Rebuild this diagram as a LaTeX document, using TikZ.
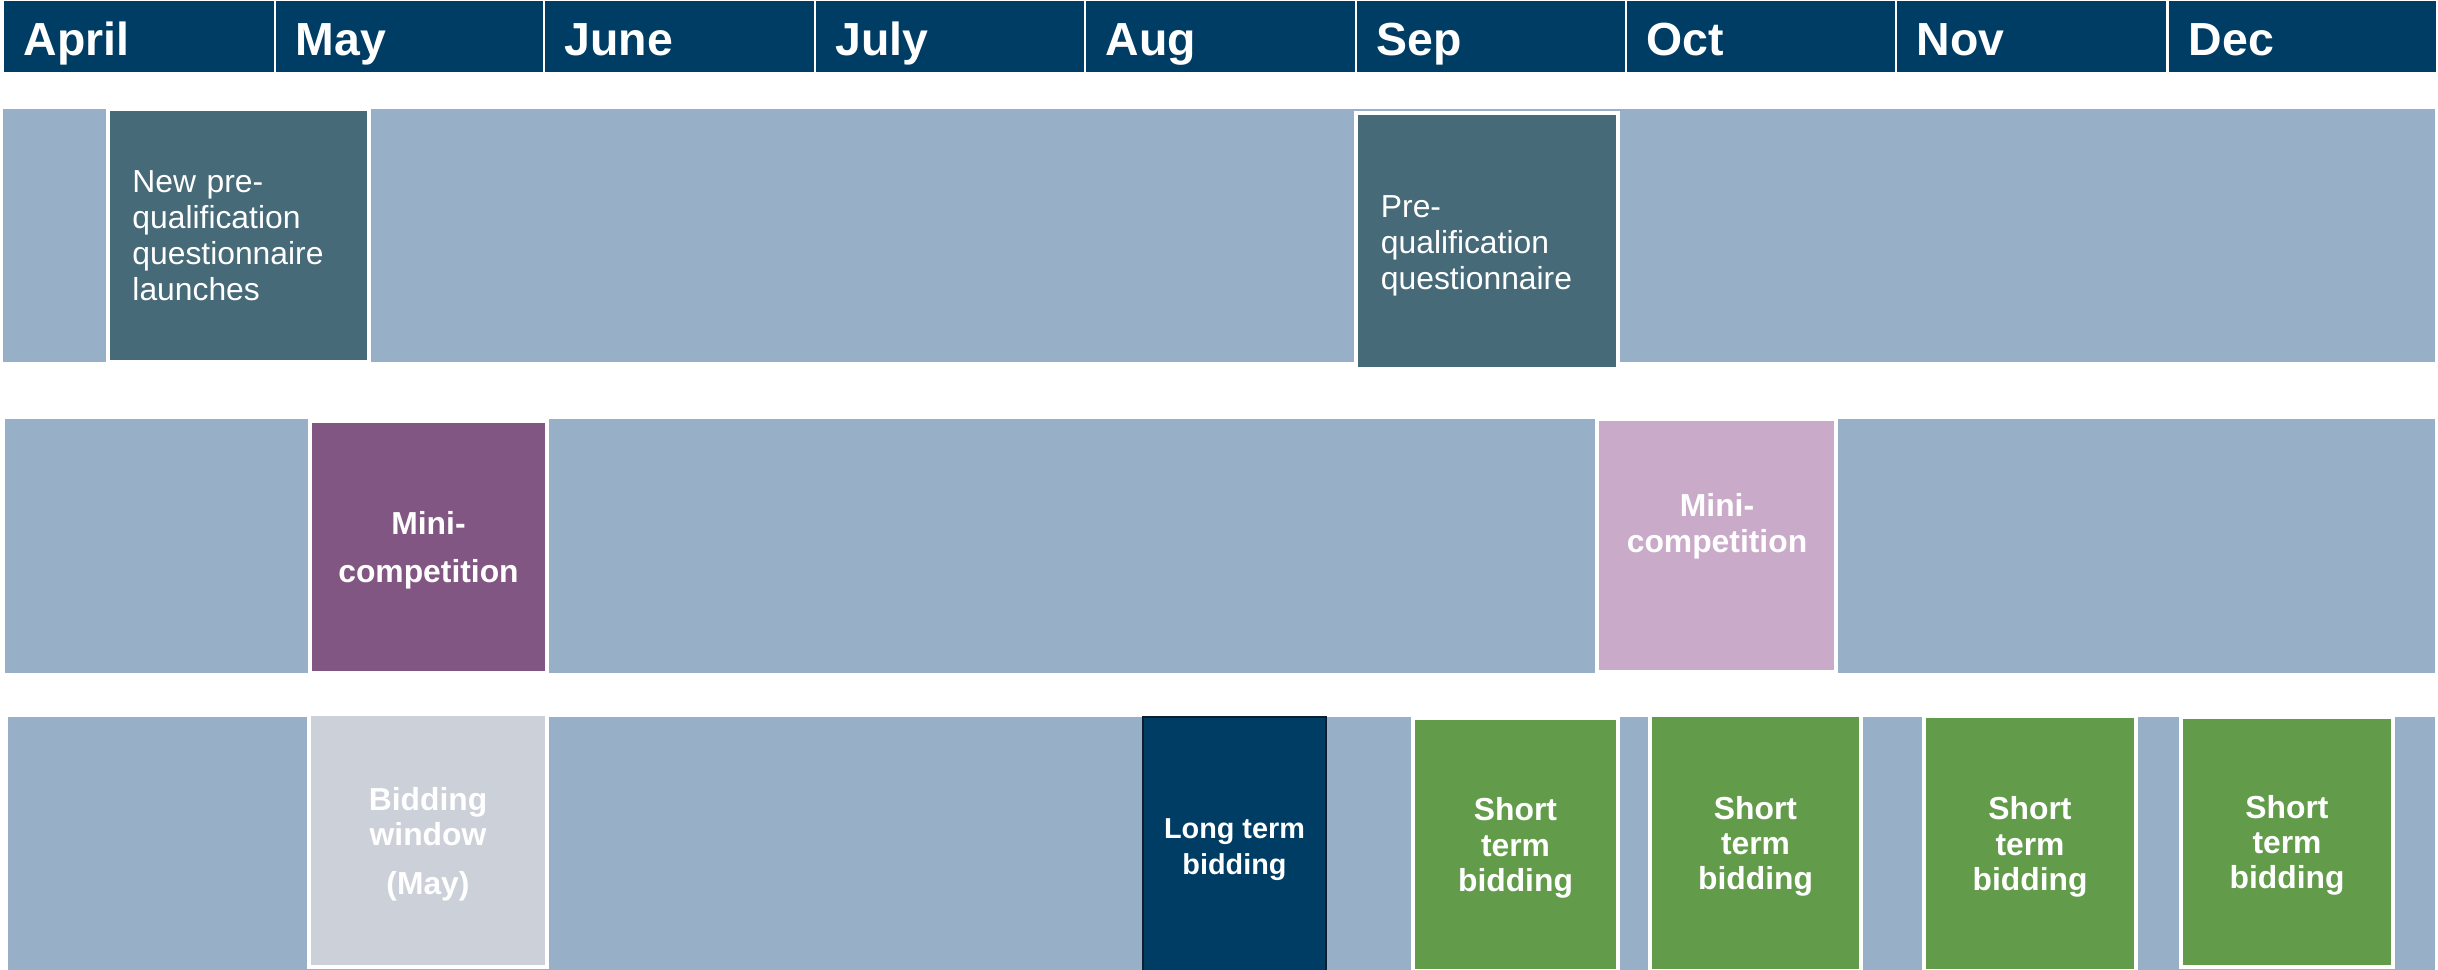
\documentclass[tikz,border=0pt]{standalone}
\usepackage{fontspec}
\setmainfont{Liberation Sans}
\definecolor{navy}{RGB}{0,61,100}
\definecolor{barblue}{RGB}{151,176,200}
\definecolor{teal}{RGB}{70,106,120}
\definecolor{plum}{RGB}{130,86,130}
\definecolor{pink}{RGB}{201,171,201}
\definecolor{greybox}{RGB}{204,208,216}
\definecolor{grn}{RGB}{98,156,74}
\definecolor{darkedge}{RGB}{12,30,48}
\newcommand\tbox[7]{\node[#6, anchor=north west, minimum width={(#4-#2)*0.01cm}, minimum height={(#5-#3)*0.01cm}] (#1) at (#2,#3) {#7};}
\tikzset{
  cellbase/.style={inner sep=0pt, outer sep=0pt, text=white},
  monthcell/.style={cellbase, fill=navy},
  monthlabel/.style={anchor=base west, inner sep=0pt, text=white, font=\fontsize{13.2}{15}\selectfont\bfseries},
  bar/.style={cellbase, fill=barblue},
  whiteedge/.style={draw=white, line width=0.9pt},
  regtext/.style={align=left, text width=2.12cm, font=\fontsize{9.05}{10.25}\selectfont},
  boldtext/.style={align=center, text depth=0pt, font=\fontsize{9.05}{10}\selectfont\bfseries},
  tealbox/.style={cellbase, whiteedge, fill=teal, regtext},
  plumbox/.style={cellbase, whiteedge, fill=plum, boldtext},
  pinkbox/.style={cellbase, whiteedge, fill=pink},
  greybx/.style={cellbase, whiteedge, fill=greybox, boldtext},
  longbox/.style={cellbase, draw=darkedge, line width=0.5pt, fill=navy},
  longtext/.style={inner sep=0pt, text=white, align=center, font=\fontsize{8.2}{10.2}\selectfont\bfseries},
  greenbox/.style={cellbase, whiteedge, fill=grn, boldtext},
}
\begin{document}
\begin{tikzpicture}[x=0.01cm,y=-0.01cm]
\useasboundingbox (0,0) rectangle (2438,970);
% header
\tbox{hApr}{4}{1}{274}{72}{monthcell}{}
\tbox{hMay}{276}{1}{543}{72}{monthcell}{}
\tbox{hJun}{545}{1}{814}{72}{monthcell}{}
\tbox{hJul}{816}{1}{1084}{72}{monthcell}{}
\tbox{hAug}{1086}{1}{1355}{72}{monthcell}{}
\tbox{hSep}{1357}{1}{1625}{72}{monthcell}{}
\tbox{hOct}{1627}{1}{1895}{72}{monthcell}{}
\tbox{hNov}{1897}{1}{2166}{72}{monthcell}{}
\tbox{hDec}{2169}{1}{2436}{72}{monthcell}{}
\node[monthlabel] (lApr) at (23,56) {April};
\node[monthlabel] (lMay) at (295,56) {May};
\node[monthlabel] (lJun) at (564,56) {June};
\node[monthlabel] (lJul) at (835,56) {July};
\node[monthlabel] (lAug) at (1105,56) {Aug};
\node[monthlabel] (lSep) at (1376,56) {Sep};
\node[monthlabel] (lOct) at (1646,56) {Oct};
\node[monthlabel] (lNov) at (1916,56) {Nov};
\node[monthlabel] (lDec) at (2188,56) {Dec};
% row 1
\tbox{bar1}{3}{109}{2435}{362}{bar}{}
\tbox{newpq}{108}{109}{369}{362}{tealbox}{New pre-\\qualification\\questionnaire\\launches}
\tbox{seppq}{1356}{113}{1618}{369}{tealbox}{}
\node[regtext, text=white, inner sep=0pt] (seppqtxt) at (1487,245.5) {Pre-\\qualification\\questionnaire};
% row 2
\tbox{bar2}{5}{419}{2435}{673}{bar}{}
\tbox{mini1}{310}{421}{547}{673}{plumbox}{Mini-\\[3.9pt]competition}
\tbox{mini2}{1597}{419}{1836}{672}{pinkbox}{}
\node[boldtext, text=white, inner sep=0pt] (mini2txt) at (1717,523) {Mini-\\competition};
% row 3
\tbox{bar3}{8}{717}{2435}{971}{bar}{}
\tbox{bidwin}{309}{714}{547}{967}{greybx}{Bidding\\window\\[3.9pt](May)}
\tbox{longbid}{1143}{717}{1326}{971}{longbox}{}
\node[longtext] (longbidtxt) at (1234.5,850) {Long term\\bidding};
\tbox{short1}{1413}{718}{1618}{971}{greenbox}{Short\\term\\bidding}
\tbox{short2}{1650}{715}{1861}{971}{greenbox}{Short\\term\\bidding}
\tbox{short3}{1924}{716}{2136}{971}{greenbox}{Short\\term\\bidding}
\tbox{short4}{2181}{717}{2393}{967}{greenbox}{Short\\term\\bidding}
\end{tikzpicture}
\end{document}
